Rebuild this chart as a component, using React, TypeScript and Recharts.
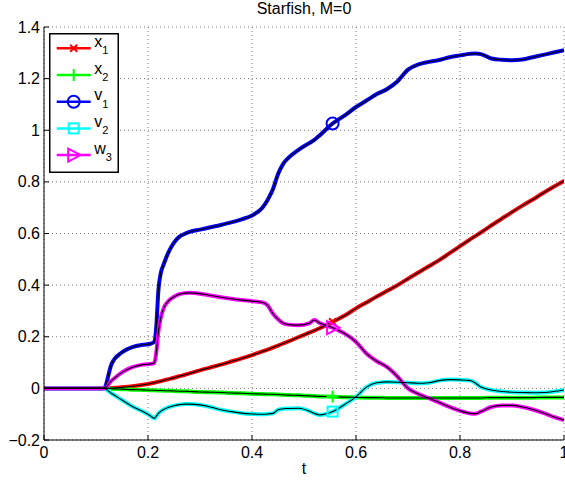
import React from 'react';
import { LineChart, Line, XAxis, YAxis, CartesianGrid, Legend } from 'recharts';

const FONT = '"Liberation Sans", Arial, Helvetica, sans-serif';

// time samples (non-uniform, denser near the jump at t~0.21)
const t = [
  0, 0.05, 0.1, 0.115, 0.13, 0.15, 0.17, 0.19,
  0.205, 0.212, 0.216, 0.22, 0.225, 0.23, 0.24, 0.25, 0.26, 0.27, 0.28,
  0.3, 0.32, 0.34, 0.36, 0.38, 0.4, 0.42, 0.43, 0.44, 0.45, 0.46, 0.47,
  0.49, 0.51, 0.52, 0.53, 0.555, 0.58, 0.6, 0.62, 0.64, 0.66, 0.68, 0.7,
  0.72, 0.74, 0.76, 0.78, 0.8, 0.82, 0.83, 0.84, 0.86, 0.88, 0.9, 0.92, 0.94, 0.96, 0.98, 1.0,
];

const x1 = [
  0, 0, 0, 0, 0.001, 0.004, 0.008, 0.014,
  0.019, 0.022, 0.024, 0.026, 0.028, 0.031, 0.036, 0.041, 0.047, 0.052, 0.058,
  0.07, 0.081, 0.092, 0.104, 0.116, 0.129, 0.143, 0.15, 0.158, 0.166, 0.174, 0.182,
  0.199, 0.216, 0.224, 0.233, 0.258, 0.284, 0.31, 0.333, 0.356, 0.378, 0.4, 0.425,
  0.449, 0.473, 0.497, 0.524, 0.551, 0.578, 0.591, 0.604, 0.631, 0.657, 0.683, 0.708, 0.732, 0.757, 0.781, 0.804,
];

const x2 = [
  0, 0, 0, 0, -0.001, -0.003, -0.005, -0.006,
  -0.007, -0.007, -0.008, -0.008, -0.008, -0.009, -0.009, -0.01, -0.011, -0.011, -0.012,
  -0.014, -0.015, -0.016, -0.018, -0.019, -0.021, -0.022, -0.023, -0.023, -0.024, -0.025, -0.026,
  -0.027, -0.029, -0.03, -0.031, -0.032, -0.034, -0.035, -0.036, -0.036, -0.037, -0.037, -0.037,
  -0.037, -0.037, -0.037, -0.037, -0.037, -0.037, -0.037, -0.037, -0.036, -0.036, -0.036, -0.036, -0.036, -0.035, -0.035, -0.035,
];

const v1 = [
  0, 0, 0, 0, 0.095, 0.14, 0.16, 0.169,
  0.173, 0.18, 0.24, 0.38, 0.45, 0.48, 0.53, 0.565, 0.587, 0.598, 0.606,
  0.615, 0.624, 0.633, 0.643, 0.655, 0.67, 0.7, 0.73, 0.77, 0.83, 0.87, 0.893,
  0.925, 0.95, 0.963, 0.98, 1.026, 1.06, 1.09, 1.115, 1.14, 1.16, 1.19, 1.235,
  1.255, 1.265, 1.272, 1.283, 1.29, 1.296, 1.297, 1.295, 1.278, 1.273, 1.271, 1.274, 1.283, 1.292, 1.301, 1.31,
];

const v2 = [
  0, 0, 0, 0, -0.02, -0.045, -0.07, -0.09,
  -0.107, -0.116, -0.108, -0.097, -0.088, -0.082, -0.073, -0.067, -0.063, -0.061, -0.061,
  -0.064, -0.072, -0.083, -0.09, -0.096, -0.099, -0.1, -0.099, -0.097, -0.083, -0.079, -0.078,
  -0.077, -0.088, -0.097, -0.103, -0.09, -0.06, -0.033, 0.005, 0.022, 0.025, 0.024, 0.022,
  0.02, 0.022, 0.03, 0.034, 0.033, 0.03, 0.02, 0.005, -0.006, -0.012, -0.015, -0.016, -0.017, -0.016, -0.012, -0.006,
];

const w3 = [
  0, 0, 0, 0, 0.03, 0.062, 0.082, 0.092,
  0.095, 0.098, 0.14, 0.22, 0.277, 0.31, 0.34, 0.355, 0.365, 0.369, 0.37,
  0.367, 0.36, 0.353, 0.347, 0.342, 0.338, 0.333, 0.322, 0.29, 0.268, 0.252, 0.247,
  0.245, 0.252, 0.265, 0.253, 0.235, 0.21, 0.18, 0.135, 0.105, 0.082, 0.045, 0.0,
  -0.022, -0.038, -0.055, -0.072, -0.087, -0.097, -0.098, -0.09, -0.072, -0.066, -0.066, -0.072, -0.082, -0.095, -0.11, -0.123,
];

const xTicks = [0, 0.2, 0.4, 0.6, 0.8, 1];
const yTicks = [-0.2, 0, 0.2, 0.4, 0.6, 0.8, 1, 1.2, 1.4];
const markerAt = 0.555;
const title = 'Starfish, M=0';

const series = [
  { key: 'x1', letter: 'x', sub: '1', color: '#ff0000', marker: 'cross', values: x1 },
  { key: 'x2', letter: 'x', sub: '2', color: '#00ff00', marker: 'plus', values: x2 },
  { key: 'v1', letter: 'v', sub: '1', color: '#0000ff', marker: 'circle', values: v1 },
  { key: 'v2', letter: 'v', sub: '2', color: '#00ffff', marker: 'square', values: v2 },
  { key: 'w3', letter: 'w', sub: '3', color: '#ff00ff', marker: 'triangle', values: w3 },
];

const data = t.map((tt, i) => {
  const row: Record<string, number> = { t: tt };
  series.forEach((s) => {
    row[s.key] = s.values[i];
  });
  return row;
});

const fmt = (v: number) => (v < 0 ? '\u2212' + Math.abs(v) : String(v));

function Marker({ kind, cx, cy, color }: { kind: string; cx: number; cy: number; color: string }) {
  const sw = 2;
  switch (kind) {
    case 'cross':
      return (
        <g stroke={color} strokeWidth={sw}>
          <line x1={cx - 3.5} y1={cy - 3.5} x2={cx + 3.5} y2={cy + 3.5} />
          <line x1={cx - 3.5} y1={cy + 3.5} x2={cx + 3.5} y2={cy - 3.5} />
        </g>
      );
    case 'plus':
      return (
        <g stroke={color} strokeWidth={sw}>
          <line x1={cx - 6} y1={cy} x2={cx + 6} y2={cy} />
          <line x1={cx} y1={cy - 6} x2={cx} y2={cy + 6} />
        </g>
      );
    case 'circle':
      return <circle cx={cx} cy={cy} r={6} fill="none" stroke={color} strokeWidth={sw} />;
    case 'square':
      return <rect x={cx - 5} y={cy - 5} width={10} height={10} fill="none" stroke={color} strokeWidth={sw} />;
    default:
      return (
        <polygon
          points={`${cx - 5.5},${cy - 6.5} ${cx + 7},${cy} ${cx - 5.5},${cy + 6.5}`}
          fill="none"
          stroke={color}
          strokeWidth={sw}
        />
      );
  }
}

const YTickLeft = (props: any) => {
  const { x, y, payload } = props;
  return (
    <g>
      <line x1={x} x2={x + 5} y1={y} y2={y} stroke="#000" />
      <text x={x - 4} y={y} dy="0.35em" textAnchor="end" fontSize={16} fontFamily={FONT} fill="#000">
        {fmt(payload.value)}
      </text>
    </g>
  );
};

const YTickRight = (props: any) => {
  const { x, y } = props;
  return <line x1={x} x2={x - 5} y1={y} y2={y} stroke="#000" />;
};

const XTickBottom = (props: any) => {
  const { x, y, payload } = props;
  return (
    <g>
      <line x1={x} x2={x} y1={y} y2={y - 5} stroke="#000" />
      <text x={x} y={y + 18} textAnchor="middle" fontSize={16} fontFamily={FONT} fill="#000">
        {fmt(payload.value)}
      </text>
    </g>
  );
};

const XTickTop = (props: any) => {
  const { x, y } = props;
  return <line x1={x} x2={x} y1={y} y2={y + 5} stroke="#000" />;
};

const renderLegend = () => (
  <svg width={70} height={140} style={{ display: 'block' }}>
    <rect x={0.75} y={0.75} width={68.5} height={138.5} fill="#fff" stroke="#000" strokeWidth={1.5} />
    {series.map((s, i) => {
      const y = 15.3 + i * 26.7;
      return (
        <g key={s.key}>
          <line x1={7.7} x2={41.7} y1={y} y2={y} stroke={s.color} strokeWidth={2.5} />
          <Marker kind={s.marker} cx={24.7} cy={y} color={s.color} />
          <text x={45.3} y={y - 1.5} fontSize={16} fontFamily={FONT} fill="#000">
            {s.letter}
            <tspan fontSize={11} dy={7.5}>
              {s.sub}
            </tspan>
          </text>
        </g>
      );
    })}
  </svg>
);

export default function App() {
  return (
    <div
      style={{
        position: 'absolute',
        left: 0,
        top: 0,
        width: 565,
        height: 481,
        background: '#fff',
        overflow: 'hidden',
        fontFamily: FONT,
      }}
    >
      <div
        style={{
          position: 'absolute',
          left: 44,
          top: 0.5,
          width: 520,
          textAlign: 'center',
          fontSize: 16,
          lineHeight: '16px',
          color: '#000',
          zIndex: 2,
        }}
      >
        {title}
      </div>
      <LineChart width={565} height={481} data={data} margin={{ top: 27, right: 1, bottom: 7, left: 0 }}>
        <CartesianGrid stroke="#808080" strokeDasharray="1 3" />
        <XAxis
          dataKey="t"
          type="number"
          domain={[0, 1]}
          ticks={xTicks}
          interval={0}
          height={34}
          tickSize={0}
          tickMargin={0}
          tickLine={false}
          axisLine={{ stroke: '#000' }}
          tick={<XTickBottom />}
          allowDataOverflow
          label={{ value: 't', position: 'insideBottom', offset: 0, fill: '#000', fontSize: 16, fontFamily: FONT }}
        />
        <XAxis
          xAxisId="top"
          orientation="top"
          dataKey="t"
          type="number"
          domain={[0, 1]}
          ticks={xTicks}
          interval={0}
          height={0}
          tickSize={0}
          tickMargin={0}
          tickLine={false}
          axisLine={{ stroke: '#000' }}
          tick={<XTickTop />}
          allowDataOverflow
        />
        <YAxis
          type="number"
          domain={[-0.2, 1.4]}
          ticks={yTicks}
          interval={0}
          width={44}
          tickSize={0}
          tickMargin={0}
          tickLine={false}
          axisLine={{ stroke: '#000' }}
          tick={<YTickLeft />}
          allowDataOverflow
        />
        <YAxis
          yAxisId="right"
          orientation="right"
          dataKey="v1"
          type="number"
          domain={[-0.2, 1.4]}
          ticks={yTicks}
          interval={0}
          width={0}
          tickSize={0}
          tickMargin={0}
          tickLine={false}
          axisLine={{ stroke: '#000' }}
          tick={<YTickRight />}
          allowDataOverflow
        />
        <Legend
          content={renderLegend}
          layout="vertical"
          align="center"
          verticalAlign="middle"
          wrapperStyle={{ left: 49, top: 33, width: 70, height: 140 }}
        />
        {series.map((s) => (
          <Line
            key={s.key}
            dataKey={s.key}
            type="monotone"
            stroke={s.color}
            strokeWidth={4}
            dot={false}
            activeDot={false}
            legendType="none"
            isAnimationActive={false}
          />
        ))}
        {series.map((s) => (
          <Line
            key={s.key + '-k'}
            dataKey={s.key}
            type="monotone"
            stroke="#000"
            strokeWidth={1.1}
            dot={false}
            activeDot={false}
            legendType="none"
            isAnimationActive={false}
          />
        ))}
        {series.map((s) => (
          <Line
            key={s.key + '-m'}
            dataKey={s.key}
            stroke="none"
            legendType="none"
            activeDot={false}
            isAnimationActive={false}
            dot={(p: any) =>
              p.payload.t === markerAt ? (
                <Marker key={`${s.key}-dot-${p.index}`} kind={s.marker} cx={p.cx} cy={p.cy} color={s.color} />
              ) : (
                <g key={`${s.key}-dot-${p.index}`} />
              )
            }
          />
        ))}
      </LineChart>
    </div>
  );
}
